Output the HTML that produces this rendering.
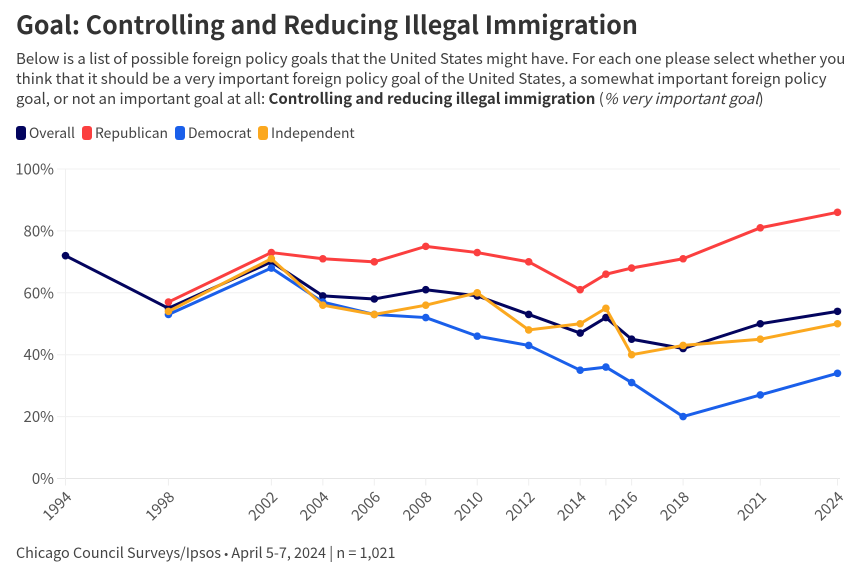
<!DOCTYPE html>
<html lang="en">
<head>
<meta charset="utf-8">
<title>Goal: Controlling and Reducing Illegal Immigration</title>
<style>
  html, body { margin: 0; padding: 0; background: #fff; }
  body { width: 863px; height: 574px; overflow: hidden; position: relative;
         font-family: "Noto Sans CJK SC", "Liberation Sans", sans-serif; color: #333; }
  #title { position: absolute; left: 16px; top: 5px; margin: 0; font-size: 25px; line-height: 38px; font-weight: 700; color: #333; white-space: nowrap; }
  #subtitle { position: absolute; left: 16px; top: 49px; width: 860px; margin: 0; font-size: 15px; line-height: 20px; color: #404040; }
  #subtitle div { white-space: nowrap; }
  #subtitle b { font-weight: 700; color: #333; }
  #legend { position: absolute; left: 16px; top: 123px; height: 20px; font-size: 13.9px; line-height: 20px; color: #444; white-space: nowrap; }
  .legend-entry { position: absolute; top: 0; }
  .swatch { position: absolute; left: 0; top: 3px; width: 10px; height: 14px; border-radius: 3px; }
  .legend-entry span.label { position: absolute; left: 13px; top: 0; }
  #chart { position: absolute; left: 0; top: 0; }
  #chart text { font-family: "Noto Sans CJK SC", "Liberation Sans", sans-serif; }
  #source { position: absolute; left: 16px; top: 543px; font-size: 14.4px; line-height: 20px; color: #444; white-space: nowrap; }
  #source .dot { font-family: "Liberation Sans", sans-serif; font-size: 11px; }
</style>
</head>
<body>
<h1 id="title">Goal: Controlling and Reducing Illegal Immigration</h1>
<div id="subtitle">
  <div>Below is a list of possible foreign policy goals that the United States might have. For each one please select whether you</div>
  <div>think that it should be a very important foreign policy goal of the United States, a somewhat important foreign policy</div>
  <div>goal, or not an important goal at all: <b>Controlling and reducing illegal immigration</b> (<i>% very important goal</i>)</div>
</div>
<div id="legend">
  <div class="legend-entry" style="left:0"><span class="swatch" style="background:#03045e"></span><span class="label">Overall</span></div>
  <div class="legend-entry" style="left:66px"><span class="swatch" style="background:#fb3f3f"></span><span class="label">Republican</span></div>
  <div class="legend-entry" style="left:159px"><span class="swatch" style="background:#1a5fea"></span><span class="label">Democrat</span></div>
  <div class="legend-entry" style="left:242px"><span class="swatch" style="background:#fba81f"></span><span class="label">Independent</span></div>
</div>
<svg id="chart" width="863" height="574" viewBox="0 0 863 574"></svg>
<div id="source">Chicago Council Surveys/Ipsos <span class="dot">•</span> April 5-7, 2024 | n = 1,021</div>
<script>
const years = [1994, 1998, 2002, 2004, 2006, 2008, 2010, 2012, 2014, 2015, 2016, 2018, 2021, 2024];
const xTickLabels = ['1994', '1998', '2002', '2004', '2006', '2008', '2010', '2012', '2014', '', '2016', '2018', '2021', '2024'];
const yTicks = [0, 20, 40, 60, 80, 100];
const overall = [72, 55, 70, 59, 58, 61, 59, 53, 47, 52, 45, 42, 50, 54];
const republican = [null, 57, 73, 71, 70, 75, 73, 70, 61, 66, 68, 71, 81, 86];
const democrat = [null, 53, 68, 57, 53, 52, 46, 43, 35, 36, 31, 20, 27, 34];
const independent = [null, 54, 71, 56, 53, 56, 60, 48, 50, 55, 40, 43, 45, 50];

const svg = document.getElementById('chart');
const NS = 'http://www.w3.org/2000/svg';
const plot = { left: 65.5, right: 837.5, top: 169, bottom: 478.5, gridRight: 840 };
const minYear = Math.min(...years);
const maxYear = Math.max(...years);
function xScale(year) {
  return plot.left + (year - minYear) / (maxYear - minYear) * (plot.right - plot.left);
}
function yScale(value) {
  return plot.bottom - value / 100 * (plot.bottom - plot.top);
}
function make(tag, attrs, parent) {
  const el = document.createElementNS(NS, tag);
  for (const k in attrs) el.setAttribute(k, attrs[k]);
  parent.appendChild(el);
  return el;
}

const gridGroup = make('g', {}, svg);


yTicks.forEach(function (t) {
  const line = make('line', { x1: 57, x2: plot.gridRight, y1: yScale(t), y2: yScale(t), stroke: t === 0 ? '#e6e6e6' : '#f0f0f0', 'stroke-width': 1 }, gridGroup);
  
  
  const label = make('text', { x: 54, y: yScale(t) + 5.5, 'text-anchor': 'end', 'font-size': 15, fill: '#555' }, gridGroup);
  
  
  label.textContent = t + '%';
});

const xGroup = make('g', {}, svg);


const baseLine = make('line', { x1: plot.left, x2: plot.left, y1: plot.top, y2: plot.bottom, stroke: '#f0f0f0', 'stroke-width': 1 }, xGroup);


years.forEach(function (yr, i) {
  const x = xScale(yr);
  const tick = make('line', { x1: x, x2: x, y1: plot.bottom, y2: plot.bottom + 7, stroke: '#eeeeee', 'stroke-width': 1 }, xGroup);
  
  
  if (xTickLabels[i]) {
    const label = make('text', { x: x + 7, y: 498, 'text-anchor': 'end', 'font-size': 15, fill: '#555', transform: 'rotate(-45 ' + (x + 7) + ' 498)' }, xGroup);
    
    
    label.textContent = xTickLabels[i];
  }
});

function drawSeries(name, values, color) {
  const group = make('g', {}, svg);
  
  
  const pts = [];
  values.forEach(function (v, i) {
    if (v !== null) pts.push([xScale(years[i]), yScale(v), years[i]]);
  });
  const line = make('polyline', { points: pts.map(function (p) { return p[0] + ',' + p[1]; }).join(' '), fill: 'none', stroke: color, 'stroke-width': 3, 'stroke-linejoin': 'round', 'stroke-linecap': 'round' }, group);
  
  
  pts.forEach(function (p) {
    const dot = make('circle', { cx: p[0], cy: p[1], r: 3.8, fill: color }, group);
    
    
  });
}
drawSeries('overall', overall, '#03045e');
drawSeries('republican', republican, '#fb3f3f');
drawSeries('democrat', democrat, '#1a5fea');
drawSeries('independent', independent, '#fba81f');
</script>
</body>
</html>
